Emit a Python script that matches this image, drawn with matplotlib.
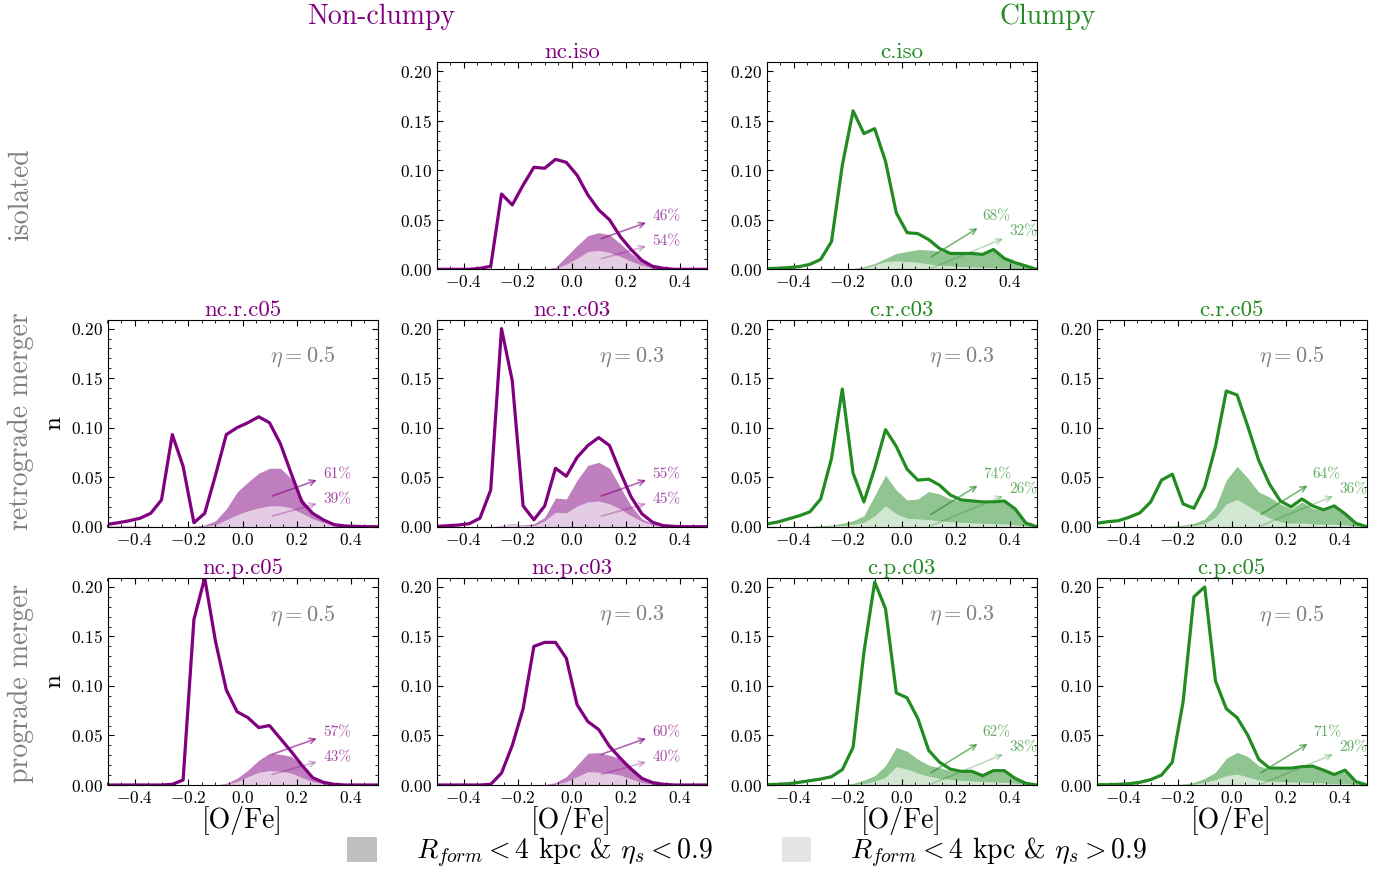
import numpy as np
import matplotlib
matplotlib.use("Agg")
import matplotlib.pyplot as plt
from matplotlib.patches import Patch
from matplotlib.ticker import MultipleLocator, AutoMinorLocator

plt.rcParams['font.family'] = 'cmr10'
plt.rcParams['mathtext.fontset'] = 'cm'
plt.rcParams['axes.formatter.use_mathtext'] = True
plt.rcParams['axes.unicode_minus'] = True

# bin centres of [O/Fe]
ofe = np.linspace(-0.5, 0.5, 26)

# ---- non-clumpy ----
nciso_line = [0, 0, 0, 0, 0.001, 0.003, 0.076, 0.065, 0.085, 0.103, 0.102, 0.111, 0.108,
              0.095, 0.075, 0.060, 0.050, 0.033, 0.020, 0.009, 0.003, 0.001, 0, 0, 0, 0]
nciso_dark = [0, 0, 0, 0, 0, 0, 0, 0, 0, 0, 0, 0.002, 0.013,
              0.024, 0.034, 0.037, 0.035, 0.026, 0.016, 0.008, 0.003, 0.001, 0, 0, 0, 0]
nciso_light = [0, 0, 0, 0, 0, 0, 0, 0, 0, 0, 0, 0.001, 0.005,
               0.011, 0.018, 0.019, 0.017, 0.013, 0.008, 0.004, 0.001, 0, 0, 0, 0, 0]

ncrc05_line = [0.0024, 0.004, 0.006, 0.0085, 0.0135, 0.027, 0.093, 0.061, 0.004, 0.0135, 0.052, 0.093, 0.100,
               0.105, 0.111, 0.105, 0.084, 0.054, 0.025, 0.0135, 0.0068, 0.002, 0.0007, 0.0003, 0, 0]
ncrc05_dark = [0.0015, 0.0015, 0.0015, 0.001, 0.0005, 0, 0, 0, 0.0005, 0.0017, 0.006, 0.018, 0.035,
               0.045, 0.054, 0.059, 0.059, 0.049, 0.029, 0.0135, 0.005, 0.001, 0, 0, 0, 0]
ncrc05_light = [0.0015, 0.0015, 0.0015, 0.001, 0.0005, 0, 0, 0, 0, 0.0005, 0.002, 0.007, 0.012,
                0.016, 0.019, 0.021, 0.021, 0.019, 0.0135, 0.008, 0.004, 0.001, 0, 0, 0, 0]

ncrc03_line = [0.0003, 0.001, 0.0017, 0.003, 0.0085, 0.037, 0.200, 0.147, 0.021, 0.007, 0.021, 0.059, 0.051,
               0.070, 0.082, 0.090, 0.082, 0.055, 0.030, 0.013, 0.0044, 0.001, 0.0003, 0, 0, 0]
ncrc03_dark = [0, 0, 0, 0, 0, 0, 0.0017, 0.0034, 0.0017, 0.003, 0.0095, 0.029, 0.028,
               0.047, 0.062, 0.065, 0.059, 0.040, 0.021, 0.008, 0.003, 0.0005, 0, 0, 0, 0]
ncrc03_light = [0, 0, 0, 0, 0, 0, 0.0017, 0.003, 0.001, 0.001, 0.006, 0.0146, 0.014,
                0.021, 0.025, 0.026, 0.023, 0.018, 0.011, 0.0054, 0.0017, 0.0003, 0, 0, 0, 0]

ncpc05_line = [0, 0, 0, 0, 0, 0, 0.0007, 0.005, 0.167, 0.209, 0.145, 0.096, 0.074,
               0.068, 0.058, 0.060, 0.047, 0.034, 0.020, 0.0074, 0.0027, 0.0007, 0, 0, 0, 0]
ncpc05_dark = [0, 0, 0, 0, 0, 0, 0, 0, 0, 0, 0, 0.0017, 0.0068,
               0.015, 0.025, 0.032, 0.031, 0.029, 0.020, 0.0084, 0.0027, 0.0007, 0, 0, 0, 0]
ncpc05_light = [0, 0, 0, 0, 0, 0, 0, 0, 0, 0, 0, 0.0007, 0.0034,
                0.0084, 0.0128, 0.0145, 0.014, 0.012, 0.0074, 0.0034, 0.001, 0, 0, 0, 0, 0]

ncpc03_line = [0, 0, 0, 0, 0, 0.0007, 0.012, 0.040, 0.077, 0.140, 0.144, 0.144, 0.128,
               0.081, 0.064, 0.056, 0.039, 0.027, 0.016, 0.0067, 0.0024, 0.0007, 0, 0, 0, 0]
ncpc03_dark = [0, 0, 0, 0, 0, 0, 0, 0, 0, 0, 0.0003, 0.0024, 0.0084,
               0.020, 0.032, 0.0327, 0.030, 0.027, 0.0185, 0.0084, 0.0024, 0.0003, 0, 0, 0, 0]
ncpc03_light = [0, 0, 0, 0, 0, 0, 0, 0, 0, 0, 0, 0.0007, 0.0034,
                0.0084, 0.0135, 0.0128, 0.0118, 0.010, 0.006, 0.0024, 0.0007, 0, 0, 0, 0, 0]

# ---- clumpy ----
ciso_line = [0.0007, 0.001, 0.0017, 0.0027, 0.005, 0.010, 0.028, 0.105, 0.160, 0.137, 0.142, 0.109, 0.057,
             0.037, 0.036, 0.030, 0.021, 0.016, 0.016, 0.016, 0.015, 0.020, 0.011, 0.0067, 0.0034, 0]
ciso_dark = [0, 0, 0, 0, 0, 0, 0, 0, 0.0007, 0.0027, 0.006, 0.011, 0.016,
             0.018, 0.020, 0.0195, 0.0185, 0.016, 0.015, 0.015, 0.0145, 0.019, 0.0105, 0.0065, 0.0033, 0]
ciso_light = [0, 0, 0, 0, 0, 0, 0, 0, 0, 0.001, 0.0044, 0.0078, 0.0084,
              0.0078, 0.007, 0.0054, 0.004, 0.0034, 0.0027, 0.0024, 0.002, 0.0017, 0.0013, 0.0007, 0.0003, 0]

crc03_line = [0.0027, 0.0047, 0.0078, 0.011, 0.015, 0.028, 0.069, 0.139, 0.054, 0.025, 0.059, 0.098, 0.081,
              0.058, 0.047, 0.048, 0.042, 0.032, 0.027, 0.026, 0.025, 0.025, 0.026, 0.018, 0.0037, 0]
crc03_dark = [0, 0, 0, 0, 0.0003, 0.001, 0.0017, 0.0034, 0.006, 0.011, 0.0315, 0.052, 0.037,
              0.027, 0.028, 0.0356, 0.033, 0.028, 0.026, 0.025, 0.024, 0.024, 0.025, 0.017, 0.0034, 0]
crc03_light = [0, 0, 0, 0, 0, 0, 0.0007, 0.001, 0.0024, 0.0044, 0.011, 0.021, 0.013,
               0.0085, 0.0078, 0.007, 0.006, 0.005, 0.0044, 0.0037, 0.0034, 0.003, 0.0027, 0.0017, 0.0007, 0]

crc05_line = [0.0034, 0.005, 0.006, 0.0095, 0.014, 0.025, 0.047, 0.053, 0.023, 0.0186, 0.040, 0.081, 0.137,
              0.133, 0.101, 0.067, 0.043, 0.026, 0.020, 0.028, 0.021, 0.017, 0.021, 0.013, 0.0034, 0]
crc05_dark = [0, 0, 0, 0, 0, 0, 0.0003, 0.0007, 0.0017, 0.0034, 0.0078, 0.0197, 0.047,
              0.061, 0.049, 0.035, 0.030, 0.023, 0.018, 0.025, 0.0186, 0.016, 0.0197, 0.012, 0.003, 0]
crc05_light = [0, 0, 0, 0, 0, 0, 0, 0, 0.0007, 0.001, 0.0034, 0.0095, 0.023,
               0.0275, 0.021, 0.0146, 0.0088, 0.005, 0.0034, 0.0037, 0.0027, 0.0024, 0.0024, 0.0017, 0.0007, 0]

cpc03_line = [0.0003, 0.0007, 0.0013, 0.0027, 0.0044, 0.006, 0.0084, 0.0155, 0.038, 0.134, 0.205, 0.178, 0.093,
              0.088, 0.067, 0.035, 0.023, 0.016, 0.0138, 0.0138, 0.0094, 0.0145, 0.0145, 0.0067, 0.0017, 0]
cpc03_dark = [0, 0, 0, 0, 0, 0, 0, 0.0003, 0.0017, 0.005, 0.0094, 0.0196, 0.038,
              0.034, 0.026, 0.020, 0.0175, 0.0145, 0.0128, 0.0128, 0.0088, 0.0135, 0.0135, 0.006, 0.0013, 0]
cpc03_light = [0, 0, 0, 0, 0, 0, 0, 0, 0.0003, 0.0013, 0.0037, 0.0078, 0.0185,
               0.016, 0.012, 0.0088, 0.0067, 0.0057, 0.0047, 0.004, 0.0034, 0.003, 0.0027, 0.0017, 0.0007, 0]

cpc05_line = [0.0003, 0.0003, 0.0007, 0.0013, 0.0027, 0.0054, 0.010, 0.023, 0.084, 0.190, 0.200, 0.105, 0.077,
              0.068, 0.050, 0.026, 0.017, 0.017, 0.017, 0.0185, 0.019, 0.015, 0.0105, 0.015, 0.0034, 0]
cpc05_dark = [0, 0, 0, 0, 0, 0, 0, 0.0003, 0.001, 0.0027, 0.0067, 0.0128, 0.027,
              0.033, 0.0287, 0.0196, 0.0155, 0.016, 0.016, 0.0175, 0.018, 0.014, 0.0094, 0.014, 0.0027, 0]
cpc05_light = [0, 0, 0, 0, 0, 0, 0, 0, 0.0003, 0.0007, 0.0027, 0.0054, 0.0094,
               0.011, 0.008, 0.005, 0.004, 0.0034, 0.003, 0.0027, 0.0024, 0.002, 0.0013, 0.0013, 0.0007, 0]

# name, row, col, line, dark, light, pct dark, pct light, eta
panels = [
    ('nc.iso', 0, 1, nciso_line, nciso_dark, nciso_light, 46, 54, None),
    ('c.iso', 0, 2, ciso_line, ciso_dark, ciso_light, 68, 32, None),
    ('nc.r.c05', 1, 0, ncrc05_line, ncrc05_dark, ncrc05_light, 61, 39, '0.5'),
    ('nc.r.c03', 1, 1, ncrc03_line, ncrc03_dark, ncrc03_light, 55, 45, '0.3'),
    ('c.r.c03', 1, 2, crc03_line, crc03_dark, crc03_light, 74, 26, '0.3'),
    ('c.r.c05', 1, 3, crc05_line, crc05_dark, crc05_light, 64, 36, '0.5'),
    ('nc.p.c05', 2, 0, ncpc05_line, ncpc05_dark, ncpc05_light, 57, 43, '0.5'),
    ('nc.p.c03', 2, 1, ncpc03_line, ncpc03_dark, ncpc03_light, 60, 40, '0.3'),
    ('c.p.c03', 2, 2, cpc03_line, cpc03_dark, cpc03_light, 62, 38, '0.3'),
    ('c.p.c05', 2, 3, cpc05_line, cpc05_dark, cpc05_light, 71, 29, '0.5'),
]

W, H = 1387, 872
fig = plt.figure(figsize=(W / 100, H / 100), dpi=100)

col_left = [107.5, 436.7, 766.7, 1096.7]
row_bot = [269.3, 526.7, 785.0]
ax_w, ax_h = 270.0, 207.0

for name, r, c, line, dark, light, pd, pl, eta in panels:
    color = 'purple' if name.startswith('nc') else 'forestgreen'
    ax = fig.add_axes([col_left[c] / W, 1 - row_bot[r] / H, ax_w / W, ax_h / H])
    light = np.array(light)
    dark = np.array(dark)
    ax.fill_between(ofe, 0, light, color=color, alpha=0.2, lw=0)
    ax.fill_between(ofe, light, np.maximum(dark, light), color=color, alpha=0.5, lw=0)
    ax.plot(ofe, line, color=color, lw=2.3)
    ax.set_xlim(-0.5, 0.5)
    ax.set_ylim(0, 0.209)
    ax.xaxis.set_major_locator(MultipleLocator(0.2))
    ax.yaxis.set_major_locator(MultipleLocator(0.05))
    ax.xaxis.set_minor_locator(AutoMinorLocator())
    ax.yaxis.set_minor_locator(AutoMinorLocator())
    ax.tick_params(which='both', direction='in', top=True, right=True, labelsize=12.5)
    ax.tick_params(which='major', length=4)
    ax.tick_params(which='minor', length=2)
    ax.set_title(name, color=color, fontsize=16.5, pad=3)

    if color == 'purple':
        ax.annotate('', xy=(0.285, 0.048), xytext=(0.10, 0.030),
                    arrowprops=dict(arrowstyle='->', color=color, alpha=0.6, lw=1.2))
        ax.annotate('', xy=(0.285, 0.024), xytext=(0.10, 0.010),
                    arrowprops=dict(arrowstyle='->', color=color, alpha=0.3, lw=1.2))
        ax.text(0.30, 0.053, f'{pd}%', color=color, alpha=0.7, fontsize=11, va='center')
        ax.text(0.30, 0.028, f'{pl}%', color=color, alpha=0.7, fontsize=11, va='center')
    else:
        ax.annotate('', xy=(0.29, 0.043), xytext=(0.10, 0.011),
                    arrowprops=dict(arrowstyle='->', color=color, alpha=0.6, lw=1.2))
        ax.annotate('', xy=(0.385, 0.032), xytext=(0.10, 0.0),
                    arrowprops=dict(arrowstyle='->', color=color, alpha=0.3, lw=1.2))
        ax.text(0.30, 0.053, f'{pd}%', color=color, alpha=0.7, fontsize=11, va='center')
        ax.text(0.40, 0.038, f'{pl}%', color=color, alpha=0.7, fontsize=11, va='center')

    if eta is not None:
        ax.text(0.6, 0.82, r'$\eta = %s$' % eta, transform=ax.transAxes,
                color='grey', fontsize=16, va='center', ha='left')
    if c == 0:
        ax.set_ylabel('n', fontsize=18)
    if r == 2:
        ax.set_xlabel('[O/Fe]', fontsize=20, labelpad=0)

fig.text(381 / W, 1 - 17 / H, 'Non-clumpy', color='purple', fontsize=20, ha='center', va='center')
fig.text(1048 / W, 1 - 17 / H, 'Clumpy', color='forestgreen', fontsize=20, ha='center', va='center')
fig.text(21 / W, 1 - 195 / H, 'isolated', color='grey', fontsize=20, rotation=90, ha='center', va='center')
fig.text(21 / W, 1 - 421 / H, 'retrograde merger', color='grey', fontsize=20, rotation=90, ha='center', va='center')
fig.text(21 / W, 1 - 683 / H, 'prograde merger', color='grey', fontsize=20, rotation=90, ha='center', va='center')

handles = [Patch(facecolor='gray', alpha=0.5, lw=0), Patch(facecolor='gray', alpha=0.2, lw=0)]
labels = [r'$R_{form} < 4$ kpc & $\eta_s < 0.9$', r'$R_{form} < 4$ kpc & $\eta_s > 0.9$']
fig.legend(handles, labels, loc='center', bbox_to_anchor=(747 / W, 1 - 853 / H), ncol=2,
           frameon=False, fontsize=20, handlelength=1.05, handleheight=1.0,
           handletextpad=1.4, columnspacing=2.5, borderpad=0.1)

fig.savefig('out.png', dpi=100)
